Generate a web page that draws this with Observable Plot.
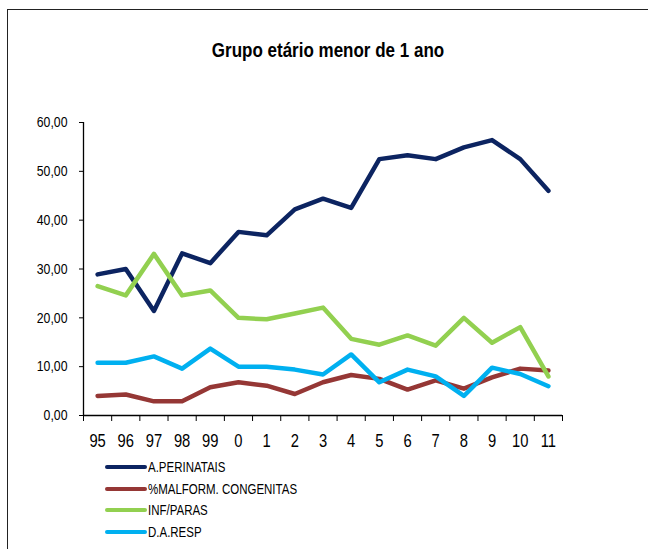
<!DOCTYPE html>
<html>
<head>
<meta charset="utf-8">
<script src="https://cdn.jsdelivr.net/npm/d3@7"></script>
<script src="https://cdn.jsdelivr.net/npm/@observablehq/plot@0.6"></script>
<style>
  html, body { margin: 0; padding: 0; background: #fff; }
  body { width: 648px; height: 549px; position: relative; overflow: hidden;
         font-family: 'Liberation Sans', Arial, sans-serif; }
  #frame { position: absolute; left: 7px; top: 9px; width: 700px; height: 600px;
           border: 1.5px solid #222; box-sizing: border-box; }
  #title { position: absolute; left: 0; width: 656px; top: 38px; text-align: center;
           font-weight: bold; font-size: 20px; color: #000; line-height: 24px;
           transform: scaleX(0.85); transform-origin: 328px 50%; }
  #chart { position: absolute; left: 0; top: 0; }
  #legend { position: absolute; left: 105px; top: 456px; }
  .row { height: 21.7px; display: flex; align-items: center; font-size: 14px; color: #000; }
  .sw { width: 42px; height: 4px; border-radius: 2px; margin-right: 1px; flex: none; }
  .lt { display: inline-block; transform: scaleX(0.82); transform-origin: 0 50%; white-space: nowrap; }
</style>
</head>
<body>
<div id="frame"></div>
<div id="title">Grupo etário menor de 1 ano</div>
<div id="chart"></div>
<div id="legend"></div>
<script>
const years = ["95","96","97","98","99","0","1","2","3","4","5","6","7","8","9","10","11"];
const seriesNames = ["A.PERINATAIS", "%MALFORM. CONGENITAS", "INF/PARAS", "D.A.RESP"];
const seriesColors = ["#0c2461", "#953735", "#92d050", "#00b0f0"];
const perinatais = [28.9, 30.0, 21.4, 33.2, 31.2, 37.6, 36.9, 42.2, 44.4, 42.5, 52.5, 53.3, 52.5, 54.9, 56.4, 52.5, 46.0];
const malformacoes = [4.0, 4.3, 2.9, 2.9, 5.8, 6.8, 6.1, 4.4, 6.8, 8.3, 7.5, 5.3, 7.2, 5.5, 7.8, 9.6, 9.2];
const infParas = [26.5, 24.6, 33.1, 24.6, 25.6, 20.0, 19.7, 20.9, 22.1, 15.7, 14.5, 16.4, 14.3, 20.0, 14.9, 18.1, 8.0];
const daResp = [10.8, 10.8, 12.1, 9.6, 13.7, 10.0, 10.0, 9.4, 8.4, 12.5, 6.8, 9.4, 8.0, 4.0, 9.8, 8.5, 6.0];
const yTicks = [0, 10, 20, 30, 40, 50, 60];

const allSeries = [perinatais, malformacoes, infParas, daResp];
const data = [];
allSeries.forEach((vals, s) => vals.forEach((v, i) => data.push({i, v, s: seriesNames[s]})));
const idx = years.map((_, i) => i);
const bounds = years.map((_, i) => i - 0.5).concat([years.length - 0.5]);

const chart = Plot.plot({
  width: 648,
  height: 460,
  marginLeft: 83,
  marginRight: 86,
  marginTop: 122,
  marginBottom: 45,
  style: {fontFamily: "'Liberation Sans', Arial, sans-serif", color: "#000", background: "transparent"},
  x: {domain: [-0.5, years.length - 0.5]},
  y: {domain: [0, 60]},
  color: {domain: seriesNames, range: seriesColors},
  marks: [
    Plot.axisY(yTicks, {tickSize: 4, tickPadding: 12, fontSize: 15, label: null,
      tickFormat: d => d.toFixed(2).replace(".", ",")}),
    Plot.axisX(idx, {tickSize: 0, tickPadding: 19, fontSize: 18, label: null,
      tickFormat: i => years[i]}),
    Plot.axisX(bounds, {tickSize: 6, tickFormat: () => "", label: null}),
    Plot.ruleX([-0.5], {stroke: "#000", strokeWidth: 1.3}),
    Plot.ruleY([0], {stroke: "#000", strokeWidth: 1.3}),
    Plot.lineY(data, {x: "i", y: "v", z: "s", stroke: "s", strokeWidth: 4.5,
      strokeLinejoin: "round", strokeLinecap: "round"})
  ]
});
document.getElementById("chart").appendChild(chart);

// condense axis text to mimic a narrow typeface
chart.querySelectorAll("text").forEach(t => {
  if (!t.textContent) return;
  const b = t.getBBox();
  const anchor = t.getAttribute("text-anchor") || (t.parentNode && t.parentNode.getAttribute("text-anchor")) || "middle";
  const px = anchor === "end" ? b.x + b.width : anchor === "start" ? b.x : b.x + b.width / 2;
  const prev = t.getAttribute("transform") || "";
  t.setAttribute("transform", `${prev} translate(${px},0) scale(0.82,1) translate(${-px},0)`);
});

const legend = document.getElementById("legend");
seriesNames.forEach((n, k) => {
  const row = document.createElement("div");
  row.className = "row";
  const sw = document.createElement("div");
  sw.className = "sw";
  sw.style.background = seriesColors[k];
  const t = document.createElement("span");
  t.className = "lt";
  t.textContent = n;
  row.appendChild(sw);
  row.appendChild(t);
  legend.appendChild(row);
});
</script>
</body>
</html>
